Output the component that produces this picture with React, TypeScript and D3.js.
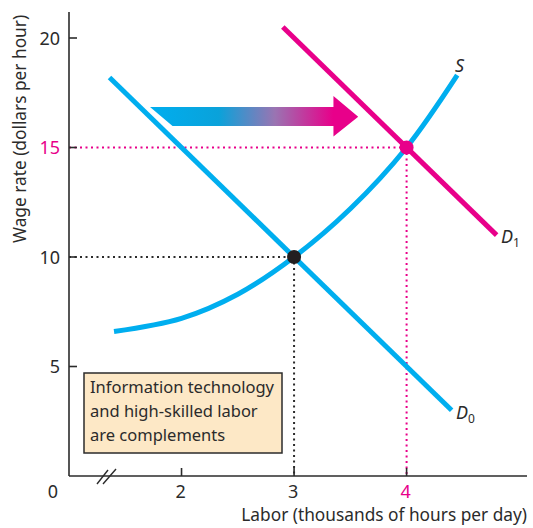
import React from "react";
import * as d3 from "d3";

const yTicks = [5, 10, 15, 20];
const xTicks = [2, 3, 4];
const demand0: [number, number][] = [[1.36, 18.2], [4.4, 3.0]];
const demand1: [number, number][] = [[2.9, 20.5], [4.8, 11.0]];
const supply: [number, number][] = [
  [1.4, 6.6], [2.0, 7.2], [2.5, 8.3], [3.0, 10.0], [3.5, 12.2], [4.0, 15.0], [4.45, 18.3],
];
const eq0: [number, number] = [3, 10];
const eq1: [number, number] = [4, 15];
const boxLines = ["Information technology", "and high-skilled labor", "are complements"];

const W = 533, H = 528;
const CYAN = "#00aeef";
const MAGENTA = "#e8008a";
const INK = "#2b2b2b";
const FONT = "'Noto Sans', sans-serif";

export default function App() {
  const x = d3.scaleLinear().domain([1, 5.07]).range([69, 527]);
  const y = d3.scaleLinear().domain([0, 20]).range([476, 38]);
  const line = d3.line<[number, number]>().x(d => x(d[0])).y(d => y(d[1]));
  const sLine = d3.line<[number, number]>().x(d => x(d[0])).y(d => y(d[1])).curve(d3.curveCatmullRom);

  const arrowPts: [number, number][] = [
    [1.72, 16.85], [3.35, 16.85], [3.35, 17.35], [3.57, 16.4], [3.35, 15.5], [3.35, 15.98], [1.92, 15.98],
  ];
  const arrowPath = "M" + arrowPts.map(p => `${x(p[0])},${y(p[1])}`).join("L") + "Z";

  return (
    <svg width={W} height={H} style={{ position: "absolute", left: 0, top: 0 }} fontFamily={FONT}>
      <defs>
        <linearGradient id="arrowGrad" gradientUnits="userSpaceOnUse" x1={x(1.72)} x2={x(3.57)} y1={0} y2={0}>
          <stop offset="0" stopColor={CYAN} />
          <stop offset="0.33" stopColor="#0aa2da" />
          <stop offset="0.6" stopColor="#9a74b2" />
          <stop offset="0.88" stopColor={MAGENTA} />
          <stop offset="1" stopColor={MAGENTA} />
        </linearGradient>
      </defs>

      <line x1={x(1)} x2={x(eq0[0])} y1={y(eq0[1])} y2={y(eq0[1])} stroke={INK} strokeWidth={2} strokeDasharray="2,3.5" />
      <line x1={x(eq0[0])} x2={x(eq0[0])} y1={y(eq0[1])} y2={y(0)} stroke={INK} strokeWidth={2} strokeDasharray="2,3.5" />
      <line x1={x(1)} x2={x(eq1[0])} y1={y(eq1[1])} y2={y(eq1[1])} stroke={MAGENTA} strokeWidth={2} strokeDasharray="2,3.5" />
      <line x1={x(eq1[0])} x2={x(eq1[0])} y1={y(eq1[1])} y2={y(0)} stroke={MAGENTA} strokeWidth={2} strokeDasharray="2,3.5" />

      <line x1={x(1)} x2={x(1)} y1={12} y2={y(0)} stroke={INK} strokeWidth={1.6} />
      <line x1={x(1)} x2={527} y1={y(0)} y2={y(0)} stroke={INK} strokeWidth={1.6} />
      {yTicks.map(t => (
        <g key={"y" + t}>
          <line x1={x(1)} x2={x(1) + 8} y1={y(t)} y2={y(t)} stroke={INK} strokeWidth={1.6} />
          <text x={60} y={y(t) + 6.5} textAnchor="end" fontSize={18} fill={t === 15 ? MAGENTA : INK}>{t}</text>
        </g>
      ))}
      {xTicks.map(t => (
        <g key={"x" + t}>
          <line x1={x(t)} x2={x(t)} y1={y(0)} y2={y(0) - 8} stroke={INK} strokeWidth={1.6} />
          <text x={x(t) - 1} y={498} textAnchor="middle" fontSize={18} fill={t === 4 ? MAGENTA : INK}>{t}</text>
        </g>
      ))}
      <text x={53} y={498} textAnchor="middle" fontSize={18} fill={INK}>0</text>
      <line x1={97} x2={108} y1={484} y2={470} stroke={INK} strokeWidth={1.4} />
      <line x1={103} x2={116} y1={484} y2={469} stroke={INK} strokeWidth={1.4} />

      <text x={527} y={521} textAnchor="end" fontSize={17.3} fill={INK}>Labor (thousands of hours per day)</text>
      <text transform="translate(26,129) rotate(-90)" textAnchor="middle" fontSize={17.3} fill={INK}>Wage rate (dollars per hour)</text>

      <path d={arrowPath} fill="url(#arrowGrad)" />

      <path d={line(demand0)!} stroke={CYAN} strokeWidth={5} fill="none" />
      <path d={sLine(supply)!} stroke={CYAN} strokeWidth={5} fill="none" />
      <path d={line(demand1)!} stroke={MAGENTA} strokeWidth={5} fill="none" />

      <circle cx={x(eq0[0])} cy={y(eq0[1])} r={7} fill="#231f20" />
      <circle cx={x(eq1[0])} cy={y(eq1[1])} r={7} fill={MAGENTA} />

      <text x={455} y={72} fontSize={18} fontStyle="italic" fill={INK}>S</text>
      <text x={501} y={243} fontSize={18} fontStyle="italic" fill={INK}>D<tspan fontSize={12} fontStyle="normal" dy={4}>1</tspan></text>
      <text x={456} y={419} fontSize={18} fontStyle="italic" fill={INK}>D<tspan fontSize={12} fontStyle="normal" dy={4}>0</tspan></text>

      <rect x={84} y={373} width={198} height={80} fill="#fde8c6" stroke={INK} strokeWidth={1.5} />
      {boxLines.map((l, i) => (
        <text key={i} x={90} y={393 + i * 24} fontSize={16.5} fill={INK}>{l}</text>
      ))}
    </svg>
  );
}
